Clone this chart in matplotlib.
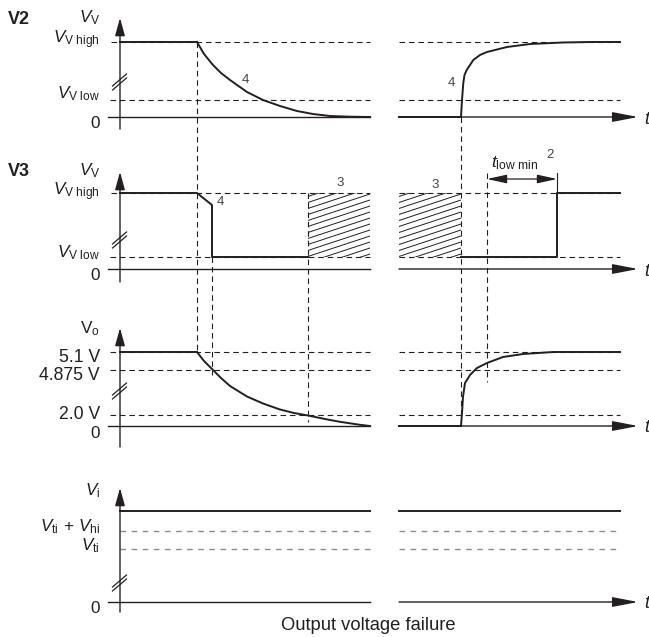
import numpy as np
import matplotlib
matplotlib.use('Agg')
import matplotlib.pyplot as plt
from matplotlib.patches import Rectangle

plt.rcParams['font.family'] = 'Liberation Sans'
plt.rcParams['mathtext.fontset'] = 'custom'
plt.rcParams['mathtext.rm'] = 'Liberation Sans'
plt.rcParams['mathtext.it'] = 'Liberation Sans:italic'
plt.rcParams['mathtext.bf'] = 'Liberation Sans:bold'

# time marks (schematic units)
t_fail = 7.7        # output voltage starts to fail
t_drop = 9.2        # V3 falls to V_V low
t_hatch = 18.8      # Vo reaches 2.0 V
t_cut = 25.0        # end of left part
t_resume = 27.9     # start of right part
t_back = 34.1       # supply comes back
t_lowmin = 36.7     # Vo back above 4.875 V
t_v3_high = 43.7    # V3 back high after t_low min
t_end = 50.0
t_arrow = 51.8

# V2 panel
v2_high = 7.5
v2_low = 1.7
v2_fall_t = [7.7, 8.4, 9.3, 10.1, 11.0, 12.7, 14.3, 16.0, 17.7, 19.3, 21.0, 23.0, 25.0]
v2_fall_v = [7.5, 6.3, 5.2, 4.4, 3.7, 2.5, 1.7, 1.1, 0.6, 0.3, 0.1, 0.03, 0.0]
v2_rise_t = [34.1, 34.2, 34.33, 34.45, 34.67, 35.33, 36.0, 36.7, 38.7, 41.0, 44.3, 47.0, 50.0]
v2_rise_v = [0.0, 1.7, 3.4, 4.2, 4.7, 5.7, 6.2, 6.5, 7.0, 7.3, 7.45, 7.5, 7.5]

# V3 panel
v3_high = 7.6
v3_low = 1.2
v3_left_t = [0.0, 7.7, 9.2, 9.2, 18.8]
v3_left_v = [7.6, 7.6, 6.4, 1.2, 1.2]
v3_right_t = [34.1, 43.7, 43.7, 50.0]
v3_right_v = [1.2, 1.2, 7.6, 7.6]

# Vo panel
vo_levels = [7.4, 5.6, 1.1]
vo_labels = ['5.1 V', '4.875 V', '2.0 V']
vo_fall_t = [7.7, 8.4, 9.2, 10.1, 11.0, 12.7, 14.3, 16.0, 17.4, 18.8, 20.0, 21.0, 22.0, 23.0, 24.0, 25.0]
vo_fall_v = [7.4, 6.5, 5.7, 4.8, 4.0, 2.95, 2.25, 1.65, 1.3, 1.05, 0.8, 0.6, 0.42, 0.27, 0.12, 0.0]
vo_rise_t = [34.1, 34.2, 34.3, 34.5, 35.0, 35.7, 36.7, 38.3, 40.3, 43.3, 46.5, 50.0]
vo_rise_v = [0.0, 1.3, 2.9, 4.3, 5.1, 5.8, 6.3, 6.9, 7.2, 7.4, 7.4, 7.4]

# Vi panel
vi_level = 9.1
vi_thr = [7.1, 5.3]

# layout: zero line of each panel
base = [52.0, 36.8, 21.1, 3.5]

INK = '#231f20'
GRAY = '#8c8c8c'
DASH = (0, (5, 3.5))

fig = plt.figure(figsize=(6.49, 6.37), dpi=100)
ax = fig.add_axes([0, 0, 1, 1])
ax.set_xlim(-12.0, 52.9)
ax.set_ylim(0, 63.7)
ax.axis('off')


def Y(p, v):
    return base[p] + np.asarray(v, dtype=float)


def hline(p, v, t0, t1, color=INK, lw=0.8, ls=DASH):
    ax.plot([t0, t1], [Y(p, v), Y(p, v)], color=color, lw=lw, ls=ls)


def draw_axes(p, top, bottom, brk):
    b = base[p]
    ax.annotate('', xy=(0, b + top), xytext=(0, b + bottom),
                arrowprops=dict(arrowstyle='-|>,head_length=0.9,head_width=0.25',
                                lw=1.0, color=INK, shrinkA=0, shrinkB=0, mutation_scale=12))
    ax.plot([-1.2, t_cut], [b, b], color=INK, lw=1.0)
    ax.annotate('', xy=(t_arrow, b), xytext=(t_resume, b),
                arrowprops=dict(arrowstyle='-|>,head_length=1.3,head_width=0.25',
                                lw=1.0, color=INK, shrinkA=0, shrinkB=0, mutation_scale=12))
    ax.text(52.4, b - 0.2, 't', style='italic', fontsize=13, color=INK,
            ha='left', va='center')
    for d in (0.0, 0.4):
        ax.plot([-0.75, 0.65], [b + brk - 0.6 + d, b + brk + 0.6 + d],
                color=INK, lw=0.9)


def label(p, v, s, x=-2.0, ha='right', **kw):
    kw.setdefault('fontsize', 12.3)
    ax.text(x, Y(p, v), s, ha=ha, va='baseline', color=INK, **kw)


def hatch(p, t0, t1, v0, v1, slope=0.33, step=0.6):
    rect = Rectangle((t0, Y(p, v0)), t1 - t0, v1 - v0, fill=False, ec='none')
    ax.add_patch(rect)
    for c in np.arange(-slope * (t1 - t0) + step / 2, (v1 - v0), step):
        ln, = ax.plot([t0, t1], [Y(p, v0 + c), Y(p, v0 + c + slope * (t1 - t0))],
                      color=INK, lw=0.7)
        ln.set_clip_path(rect)


# ---------- V2 ----------
draw_axes(0, 9.9, -1.2, 3.3)
hline(0, v2_high, -0.9, t_cut)
hline(0, v2_high, t_resume, t_end)
hline(0, v2_low, -1.0, t_cut)
hline(0, v2_low, t_resume, t_end)
ax.plot([0, t_fail], Y(0, [v2_high, v2_high]), color=INK, lw=1.4)
ax.plot(v2_fall_t, Y(0, v2_fall_v), color=INK, lw=1.4)
ax.plot([t_resume, t_back], Y(0, [0, 0]), color=INK, lw=1.4)
ax.plot(v2_rise_t, Y(0, v2_rise_v), color=INK, lw=1.4)
ax.text(-11.2, Y(0, 9.3), 'V2', fontsize=13, fontweight='bold', color=INK, va='baseline')
label(0, 9.5, r'$V_{\mathrm{V}}$')
label(0, 7.4, r'$V_{\mathrm{V\ high}}$')
label(0, 1.9, r'$V_{\mathrm{V\ low}}$')
label(0, -1.1, '0')
ax.text(12.5, Y(0, 3.7), '4', fontsize=9.5, color='#444444', ha='center', va='center')
ax.text(33.1, Y(0, 3.4), '4', fontsize=9.5, color='#444444', ha='center', va='center')

# ---------- V3 ----------
draw_axes(1, 9.7, -1.3, 2.7)
hline(1, v3_high, -0.9, t_cut)
hline(1, v3_high, t_resume, t_end)
hline(1, v3_low, -1.0, t_cut)
hline(1, v3_low, t_resume, t_end)
hatch(1, t_hatch, t_cut, v3_low, v3_high)
hatch(1, t_resume, t_back, v3_low, v3_high)
ax.plot(v3_left_t, Y(1, v3_left_v), color=INK, lw=1.4)
ax.plot(v3_right_t, Y(1, v3_right_v), color=INK, lw=1.4)
ax.plot([t_v3_high, t_v3_high], Y(1, [v3_high, 9.6]), color=INK, lw=0.8)
ax.annotate('', xy=(t_lowmin, Y(1, 9.0)), xytext=(t_v3_high, Y(1, 9.0)),
            arrowprops=dict(arrowstyle='<|-|>,head_length=1.0,head_width=0.22',
                            lw=0.9, color=INK, shrinkA=0, shrinkB=0, mutation_scale=12))
ax.text(37.1, Y(1, 10.6), r'$t_{\mathrm{low\ min}}$', fontsize=12.5, color=INK,
        ha='left', va='center')
ax.text(43.0, Y(1, 11.4), '2', fontsize=9.5, color='#444444', ha='center', va='center')
ax.text(-11.2, Y(1, 9.3), 'V3', fontsize=13, fontweight='bold', color=INK, va='baseline')
label(1, 9.4, r'$V_{\mathrm{V}}$')
label(1, 7.4, r'$V_{\mathrm{V\ high}}$')
label(1, 1.2, r'$V_{\mathrm{V\ low}}$')
label(1, -1.1, '0')
ax.text(10.0, Y(1, 6.7), '4', fontsize=9.5, color='#444444', ha='center', va='center')
ax.text(22.0, Y(1, 8.6), '3', fontsize=9.5, color='#444444', ha='center', va='center')
ax.text(31.5, Y(1, 8.4), '3', fontsize=9.5, color='#444444', ha='center', va='center')

# ---------- Vo ----------
draw_axes(2, 9.8, -2.1, 3.3)
for lv in vo_levels:
    hline(2, lv, -1.0, t_cut)
    hline(2, lv, t_resume, t_end)
ax.plot([0, t_fail], Y(2, [vo_levels[0], vo_levels[0]]), color=INK, lw=1.4)
ax.plot(vo_fall_t, Y(2, vo_fall_v), color=INK, lw=1.4)
ax.plot([t_resume, t_back], Y(2, [0, 0]), color=INK, lw=1.4)
ax.plot(vo_rise_t, Y(2, vo_rise_v), color=INK, lw=1.4)
label(2, 9.3, r'$\mathrm{V}_{\mathrm{o}}$')
for lv, s, bl in zip(vo_levels, vo_labels, [6.4, 4.6, 0.7]):
    label(2, bl, s, fontsize=12.7)
label(2, -1.2, '0')

# ---------- Vi ----------
draw_axes(3, 11.4, -1.0, 1.7)
for lv in vi_thr:
    hline(3, lv, 0, t_cut, color=GRAY, lw=1.0, ls=(0, (4, 4)))
    hline(3, lv, t_resume, t_end, color=GRAY, lw=1.0, ls=(0, (4, 4)))
ax.plot([0, t_cut], Y(3, [vi_level, vi_level]), color=INK, lw=1.4)
ax.plot([t_resume, t_end], Y(3, [vi_level, vi_level]), color=INK, lw=1.4)
label(3, 10.7, r'$V_{\mathrm{i}}$')
label(3, 7.1, r'$V_{\mathrm{ti}}\, +\, V_{\mathrm{hi}}$')
label(3, 5.2, r'$V_{\mathrm{ti}}$')
label(3, -1.1, '0')

# ---------- vertical dashed markers across panels ----------
vmarks = [(t_fail, 0, v2_high, 2, vo_levels[0]),
          (t_drop, 1, v3_low, 2, 5.1),
          (t_hatch, 1, v3_high, 2, 0.4),
          (t_back, 0, 0.0, 2, 0.0),
          (t_lowmin, 1, 9.6, 2, 4.4)]
for t, p0, v0, p1, v1 in vmarks:
    ax.plot([t, t], [Y(p0, v0), Y(p1, v1)], color=INK, lw=0.8, ls=DASH)

ax.text(24.8, 1.2, 'Output voltage failure', fontsize=13.2, color=INK,
        ha='center', va='center')

fig.savefig('out.png', dpi=100)
